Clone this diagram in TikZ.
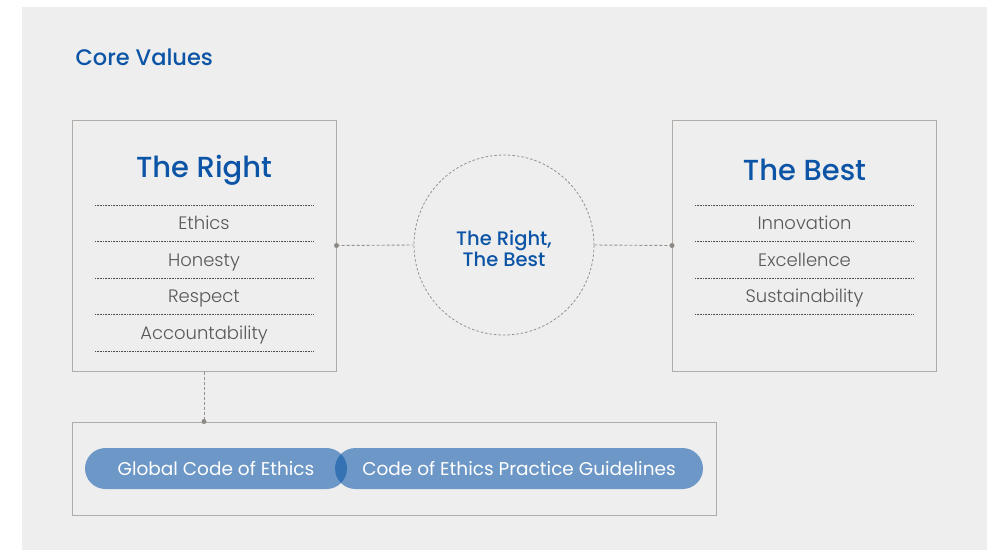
\documentclass[tikz,border=0pt]{standalone}
\usepackage{fontspec}
\setmainfont{Poppins}[BoldFont={Poppins Medium}]
\newfontfamily\lightfont{Poppins Light}
\usetikzlibrary{
  positioning,   % 节点相对定位
  calc,          % 坐标计算
  shapes.misc    % 圆角胶囊形
}
\definecolor{coreblue}{RGB}{12,84,166}
\definecolor{panelgray}{RGB}{238,238,238}
\definecolor{framegray}{RGB}{176,171,166}
\definecolor{itemgray}{RGB}{88,88,88}
\definecolor{pillblue}{RGB}{10,86,168}
\tikzset{
  value box/.style={
    draw=framegray,
    line width=1pt,
    minimum width=264pt,
    minimum height=251pt,
    inner sep=0pt
  },
  box title/.style={
    font=\fontsize{29}{32}\selectfont\bfseries,
    text=coreblue
  },
  item/.style={
    font=\fontsize{18}{20}\selectfont\lightfont,
    text=itemgray,
    text height=13pt,
    text depth=3pt
  },
  sep line/.style={
    line width=0.7pt,
    dash pattern=on 0.8pt off 0.8pt,
    color=black!70
  },
  link/.style={
    draw=framegray!85!black,
    line width=0.9pt,
    dash pattern=on 3pt off 2pt
  },
  link dot/.style={
    circle,
    fill=framegray!80!black,
    inner sep=0pt,
    minimum size=5pt
  },
  pill/.style={
    rounded rectangle,
    fill=pillblue,
    fill opacity=0.57,
    text opacity=1,
    text=white,
    minimum height=41pt,
    inner sep=0pt,
    font=\fontsize{18.5}{20}\selectfont
  }
}

\begin{document}
\begin{tikzpicture}[x=1pt, y=-1pt]
  % 画布与灰色底板
  \useasboundingbox (0,0) rectangle (992,550);
  \fill[white] (0,0) rectangle (992,550);
  \fill[panelgray] (22,7) rectangle (987,550);

  % ==== 1. 标题 ====
  \node[anchor=base west, text=coreblue, font=\fontsize{22.5}{25}\selectfont\bfseries]
    (title) at (72,65) {Core Values};

  % ==== 2. 左右两个价值框 ====
  \node[value box] (right) at (204,245.5) {};
  \node[value box] (best) at (804.5,245.5) {};
  \node[box title] (right title) at (204,170) {The Right};
  \node[box title] (best title) at (804.5,170) {The Best};

  % 虚点分隔线
  \foreach \k in {0,...,4}
    \draw[sep line] (95,205+36.5*\k) -- (314,205+36.5*\k);
  \foreach \k in {0,...,3}
    \draw[sep line] (695,205+36.5*\k) -- (914,205+36.5*\k);

  % 条目文字
  \foreach \txt [count=\i] in {Ethics,Honesty,Respect,Accountability}
    \node[item] (r\i) at (204,188+36.5*\i) {\txt};
  \foreach \txt [count=\i] in {Innovation,Excellence,Sustainability}
    \node[item] (b\i) at (804.5,188+36.5*\i) {\txt};

  % ==== 3. 中间圆 ====
  \node[circle, draw=framegray!85!black, line width=0.8pt, dash pattern=on 2.5pt off 2pt,
        minimum size=180pt] (core) at (504,245) {};
  \node[align=center, text=coreblue, font=\fontsize{19.5}{21}\selectfont\bfseries]
    (core text) at (504,248.5) {The Right,\\The Best};

  \draw[link] (right.east) -- (core.west);
  \draw[link] (core.east) -- (best.west);
  \node[link dot] at (right.east) {};
  \node[link dot] at (best.west) {};

  % ==== 4. 下方规范框 ====
  \node[value box, minimum width=644pt, minimum height=93pt] (codes) at (394,468.5) {};
  \draw[link] (right.south) -- (right.south |- codes.north);
  \node[link dot] at (right.south |- codes.north) {};

  \node[pill, minimum width=262pt] (global) at (216,468.5) {Global Code of Ethics};
  \node[pill, minimum width=368pt] (guide) at (519,468.5) {Code of Ethics Practice Guidelines};

\end{tikzpicture}
\end{document}
